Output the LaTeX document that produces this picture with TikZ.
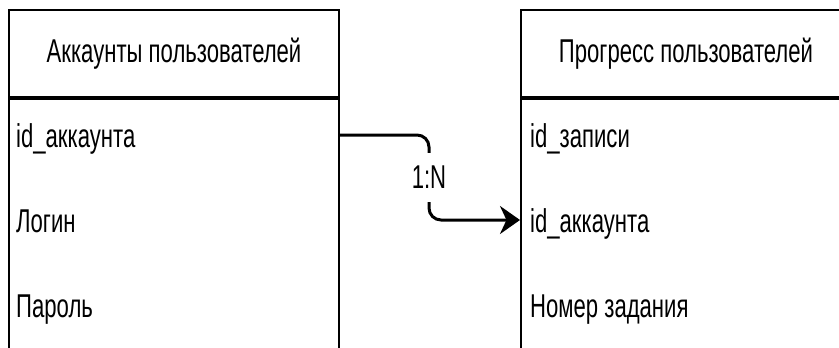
\documentclass[tikz,border=0pt]{standalone}
\usepackage{fontspec}
\setmainfont[FakeStretch=0.67]{Liberation Sans}
\usetikzlibrary{arrows.meta,calc,positioning}

\begin{document}
\begin{tikzpicture}[x=1pt,y=-1pt,font=\fontsize{33}{38}\selectfont,
	tab/.style={draw, line width=2pt, minimum width=330pt, inner sep=0pt},
	fld/.style={anchor=base west, inner sep=0pt},
	rel/.style={line width=3pt, rounded corners=12pt, -{Stealth[length=20pt,width=28pt]}}]
			\useasboundingbox (0,0) rectangle (839,348);
			\clip (0,0) rectangle (839,348);
			\node[tab, minimum height=87pt] (lhead) at (174,53.5) {Аккаунты пользователей};
			\node[tab, minimum height=87pt] (rhead) at (686,53.5) {Прогресс пользователей};
			\node[tab, minimum height=280pt, below=0pt of lhead] (lbody) {};
			\node[tab, minimum height=280pt, below=0pt of rhead] (rbody) {};
			\foreach \n/\y/\t in {lf1/147/id\_аккаунта,lf2/232/Логин,lf3/317/Пароль} \node[fld] (\n) at (16,\y) {\t};
			\foreach \n/\y/\t in {rf1/147/id\_записи,rf2/232/id\_аккаунта,rf3/317/Номер задания} \node[fld] (\n) at (530,\y) {\t};
			\path
			($(lf1.base -| lbody.east)+(0,-12)$) coordinate (src)
			($(rf2.base -| rbody.west)+(0,-12)$) coordinate (dst)
			;
			\draw[rel] (src) -- ($(src)+(89,0)$) |- node[pos=.25, fill=white, inner xsep=2pt, inner ysep=13pt] (card) {1:N} (dst);
		\end{tikzpicture}
\end{document}
